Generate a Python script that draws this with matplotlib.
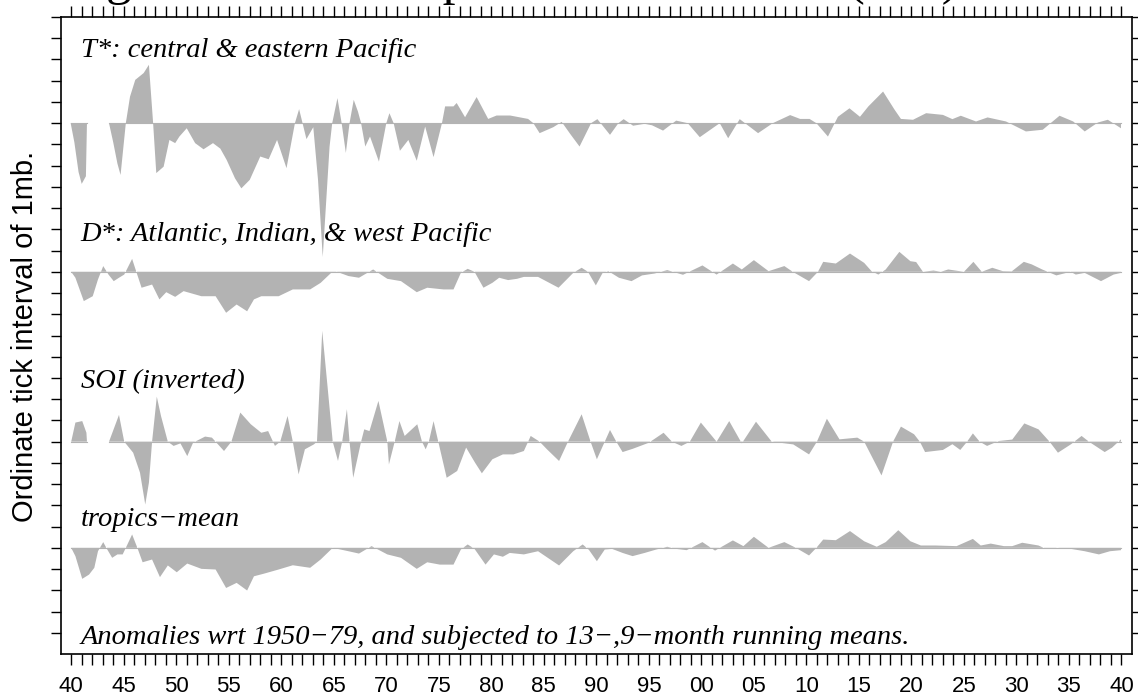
import numpy as np
import matplotlib
matplotlib.use("Agg")
import matplotlib.pyplot as plt

# ---------------- data (mb anomalies) ----------------
nan = float("nan")

tstar_years = [1939.95, 1940.3, 1940.7, 1941.0, 1941.4, 1941.5, 1942.5,
               1943.6, 1944.0, 1944.4, 1944.7, 1945.2, 1945.6, 1946.1, 1946.9, 1947.4, 1947.8,
               1948.1, 1948.8, 1949.35, 1949.9, 1950.3, 1951.0, 1951.8, 1952.6, 1953.5, 1954.2,
               1954.8, 1955.6, 1956.2, 1957.0, 1958.0, 1958.8, 1959.6, 1960.5, 1961.3, 1961.7,
               1962.4, 1963.05, 1963.5, 1963.95, 1964.3, 1964.6, 1964.85, 1965.35, 1965.75,
               1966.15, 1966.5, 1966.9, 1967.3, 1967.6, 1968.0, 1968.45, 1969.3, 1970.0, 1970.3,
               1970.7, 1971.3, 1972.1, 1972.9, 1973.7, 1974.5, 1975.3, 1975.6, 1976.4, 1976.7,
               1977.5, 1978.6, 1979.7, 1980.5, 1981.8, 1983.5, 1984.0, 1984.6, 1985.9, 1986.7,
               1987.5, 1988.4, 1989.5, 1990.1, 1991.3, 1992.1, 1992.6, 1993.5, 1994.6, 1995.3,
               1996.35, 1997.6, 1998.7, 1999.85, 2001.75, 2002.55, 2003.65, 2005.4, 2006.8,
               2008.45, 2009.4, 2010.3, 2010.95, 2012.05, 2013.0, 2014.1, 2015.1, 2015.9, 2017.3,
               2018.4, 2019.0, 2020.15, 2021.4, 2023.0, 2023.9, 2024.7, 2026.15, 2027.25, 2029.0,
               2029.65, 2030.9, 2032.5, 2034.1, 2035.4, 2036.5, 2037.75, 2038.7, 2039.95]
tstar_vals = [0.0, -0.9, -2.3, -2.86, -2.5, 0.0, nan,
              0.0, -0.9, -1.9, -2.44, 0.0, 1.25, 2.04, 2.36, 2.75, 0.0,
              -2.35, -2.05, -0.79, -0.94, -0.63, -0.24, -0.94, -1.23, -0.94, -1.2,
              -1.73, -2.6, -3.07, -2.67, -1.57, -1.7, -0.79, -2.12, 0.0, 0.66,
              -0.75, -0.19, -2.67, -6.3, -3.5, -1.1, 0.0, 1.18, 0.0,
              -1.4, 0.0, 1.1, 0.55, 0.0, -1.1, -0.63, -1.81, 0.0, 0.47,
              0.0, -1.3, -0.79, -1.77, -0.16, -1.6, 0.0, 0.79, 0.79, 0.95,
              0.28, 1.23, 0.2, 0.36, 0.36, 0.2, 0.0, -0.47, -0.19, 0.06,
              -0.5, -1.1, 0.0, 0.19, -0.55, 0.0, 0.19, -0.12, -0.03, -0.1,
              -0.35, 0.12, 0.0, -0.66, 0.0, -0.71, 0.19, -0.47, 0.0,
              0.38, 0.2, 0.2, 0.0, -0.63, 0.3, 0.7, 0.3, 0.79, 1.49,
              0.63, 0.2, 0.16, 0.47, 0.39, 0.19, 0.35, 0.08, 0.27, 0.08,
              -0.08, -0.39, -0.31, 0.35, 0.08, -0.39, 0.03, 0.16, -0.24]

dstar_years = [1940.0, 1940.4, 1941.2, 1942.05, 1942.55, 1943.05, 1943.55, 1944.05, 1944.55,
               1945.05, 1945.8, 1946.2, 1946.7, 1947.7, 1948.4, 1949.05, 1949.9, 1950.7, 1952.4,
               1953.75, 1954.75, 1955.75, 1956.75, 1957.4, 1958.1, 1959.75, 1961.1, 1962.75,
               1963.75, 1964.75, 1965.3, 1966.4, 1967.4, 1968.75, 1970.1, 1971.4, 1972.9, 1973.9,
               1975.45, 1976.4, 1977.1, 1977.75, 1978.4, 1979.25, 1980.1, 1980.75, 1981.6,
               1982.45, 1983.1, 1984.45, 1986.4, 1987.8, 1988.6, 1989.2, 1989.95, 1990.6,
               1991.15, 1992.15, 1993.35, 1994.35, 1995.55, 1996.75, 1998.25, 2000.1, 2001.45,
               2003.0, 2003.85, 2005.0, 2006.4, 2007.9, 2008.7, 2010.25, 2011.1, 2011.6, 2012.8,
               2014.15, 2015.5, 2016.2, 2016.85, 2017.55, 2018.85, 2019.9, 2020.45, 2021.1,
               2022.1, 2022.8, 2023.5, 2025.0, 2025.9, 2026.7, 2027.7, 2028.7, 2029.55, 2030.7,
               2031.45, 2032.45, 2033.8, 2035.15, 2035.65, 2036.5, 2038.05, 2039.25, 2039.95]
dstar_vals = [0.0, -0.28, -1.38, -1.15, -0.36, 0.27, -0.13, -0.44, -0.28,
              -0.13, 0.61, 0.0, -0.75, -0.6, -1.3, -0.96, -1.18, -0.91, -1.15,
              -1.15, -1.93, -1.54, -1.86, -1.3, -1.15, -1.15, -0.83, -0.83,
              -0.52, -0.05, 0.0, -0.2, -0.28, 0.11, -0.33, -0.44, -0.96, -0.75,
              -0.83, -0.83, -0.05, 0.14, 0.0, -0.75, -0.52, -0.28, -0.39,
              -0.33, -0.24, -0.24, -0.75, -0.05, 0.19, 0.0, -0.64, -0.05,
              0.03, -0.28, -0.44, -0.17, -0.08, 0.08, -0.14, 0.3, -0.13,
              0.39, 0.11, 0.55, 0.03, 0.27, 0.0, -0.44, 0.0, 0.47, 0.39,
              0.86, 0.42, 0.03, -0.13, 0.11, 0.94, 0.5, 0.46, 0.0,
              0.06, 0.0, 0.11, 0.0, 0.47, 0.0, 0.19, 0.03, 0.02, 0.47,
              0.35, 0.11, -0.17, 0.0, -0.13, -0.05, -0.44, -0.13, -0.05]

soi_years = [1940.0, 1940.4, 1941.05, 1941.45, 1941.5, 1942.5,
             1943.6, 1944.55, 1945.05, 1945.9, 1946.55, 1947.05, 1947.4, 1947.7, 1948.15,
             1948.55, 1949.2, 1949.75, 1950.4, 1951.05, 1951.6, 1952.75, 1953.4, 1954.55,
             1955.25, 1956.1, 1957.1, 1958.1, 1958.75, 1959.4, 1959.9, 1960.6, 1961.1, 1961.65,
             1962.25, 1963.1, 1963.4, 1963.9, 1964.4, 1964.9, 1965.4, 1965.8, 1966.25, 1966.5,
             1966.85, 1967.6, 1967.9, 1968.4, 1969.25, 1970.1, 1970.25, 1970.8, 1971.25,
             1971.75, 1972.95, 1973.4, 1973.75, 1974.05, 1974.5, 1974.95, 1975.75, 1976.75,
             1977.6, 1978.45, 1979.1, 1980.1, 1981.1, 1982.1, 1983.1, 1983.75, 1984.6, 1985.3,
             1986.45, 1987.3, 1988.6, 1989.45, 1990.05, 1990.8, 1991.3, 1991.9, 1992.5, 1993.5,
             1995.0, 1996.4, 1997.2, 1998.1, 1998.9, 1999.95, 2001.45, 2002.65, 2003.85,
             2005.2, 2006.7, 2008.75, 2010.25, 2011.0, 2011.95, 2013.15, 2014.85, 2015.5,
             2017.15, 2018.25, 2019.0, 2020.25, 2020.8, 2021.3, 2023.0, 2023.9, 2024.65,
             2025.3, 2025.85, 2026.5, 2027.2, 2028.3, 2029.6, 2030.75, 2032.1, 2033.15,
             2033.95, 2035.2, 2036.2, 2036.9, 2038.4, 2039.1, 2039.95]
soi_vals = [0.0, 0.9, 0.97, 0.42, 0.0, nan,
            0.0, 1.26, 0.0, -0.52, -1.46, -2.96, -1.93, 0.0, 2.12,
            1.21, 0.0, -0.2, -0.08, -0.68, -0.05, 0.24, 0.19, -0.44,
            0.0, 1.37, 0.82, 0.42, 0.5, -0.2, 0.0, 1.21, 0.0, -1.54,
            -0.36, -0.13, 0.0, 5.22, 2.63, 0.0, -0.91, 0.0, 1.53, 0.0,
            -1.7, 0.0, 0.58, 0.5, 1.92, 0.0, -1.07, 0.0, 0.97,
            0.27, 0.82, 0.0, -0.36, 0.0, 0.97, 0.0, -1.7, -1.38,
            -0.28, -0.99, -1.49, -0.83, -0.6, -0.6, -0.44, 0.27, 0.0, -0.36,
            -0.91, 0.0, 1.29, 0.0, -0.83, 0.0, 0.55, 0.0, -0.49, -0.33,
            -0.05, 0.42, 0.0, -0.2, 0.0, 0.9, 0.0, 0.97, -0.08,
            0.94, 0.0, -0.13, -0.6, 0.0, 1.08, 0.11, 0.19, 0.0,
            -1.59, 0.0, 0.71, 0.35, 0.0, -0.49, -0.39, -0.12, -0.39,
            0.0, 0.39, 0.0, -0.2, 0.03, 0.1, 0.86, 0.58, 0.0,
            -0.52, -0.12, 0.27, 0.0, -0.49, -0.28, 0.11]

trop_years = [1940.0, 1940.4, 1941.05, 1941.7, 1942.2, 1942.55, 1943.05, 1943.4, 1943.9,
              1944.4, 1944.9, 1945.2, 1945.8, 1946.3, 1946.8, 1947.7, 1948.45, 1949.2, 1950.05,
              1951.05, 1952.4, 1953.75, 1954.75, 1955.75, 1956.75, 1957.4, 1958.4, 1959.75,
              1961.1, 1962.75, 1963.75, 1964.9, 1966.4, 1967.4, 1968.6, 1970.1, 1971.4, 1972.9,
              1973.9, 1975.1, 1976.4, 1977.1, 1977.75, 1978.4, 1979.45, 1980.25, 1981.1, 1981.75,
              1983.1, 1984.45, 1986.45, 1987.8, 1988.7, 1989.3, 1990.05, 1990.8, 1991.5, 1992.5,
              1993.45, 1994.6, 1995.7, 1996.75, 1997.6, 1998.6, 2000.1, 2001.3, 2003.0, 2004.0,
              2005.0, 2006.4, 2007.9, 2009.0, 2010.25, 2010.95, 2011.6, 2012.8, 2014.15, 2015.5,
              2016.7, 2017.55, 2018.75, 2019.9, 2020.9, 2022.3, 2024.3, 2025.85, 2026.6,
              2027.55, 2028.8, 2029.6, 2030.55, 2032.1, 2032.8, 2033.9, 2035.2, 2036.5, 2037.85,
              2038.9, 2039.95]
trop_vals = [0.0, -0.39, -1.46, -1.26, -0.94, -0.16, 0.27, -0.05, -0.47,
             -0.31, -0.31, 0.0, 0.63, 0.0, -0.68, -0.55, -1.38, -0.83, -1.15,
             -0.74, -0.99, -1.02, -1.89, -1.65, -2.01, -1.34, -1.21, -1.02,
             -0.82, -0.94, -0.55, 0.0, -0.16, -0.27, 0.08, -0.31, -0.47, -0.99,
             -0.68, -0.79, -0.79, -0.08, 0.16, -0.05, -0.79, -0.31, -0.42, -0.24,
             -0.31, -0.16, -0.83, -0.16, 0.16, -0.1, -0.63, -0.08, -0.05, -0.24,
             -0.39, -0.24, -0.08, 0.05, -0.05, -0.11, 0.27, -0.13, 0.35, 0.08,
             0.52, 0.0, 0.27, 0.0, -0.36, 0.0, 0.39, 0.36, 0.79, 0.31,
             0.05, 0.27, 0.83, 0.31, 0.11, 0.11, 0.08, 0.42, 0.11,
             0.2, 0.08, 0.08, 0.24, 0.11, -0.05, 0.0, -0.05, -0.16, -0.31,
             -0.16, -0.11]

series_labels = ["T*: central & eastern Pacific",
                 "D*: Atlantic, Indian, & west Pacific",
                 "SOI (inverted)",
                 "tropics\u2212mean"]
footnote = "Anomalies wrt 1950\u221279, and subjected to 13\u2212,9\u2212month running means."
ylabel_text = "Ordinate tick interval of 1mb."
title_text = "Regional sea-level pressure anomalies (hPa)"
tick_years = list(range(1940, 2041))

# ---------------- layout / style ----------------
baselines = [-5.0, -12.0, -20.0, -25.0]
label_y = [-1.87, -10.55, -17.5, -23.96]
fill_col = "#b3b3b3"
serif = ["Liberation Serif", "DejaVu Serif"]
sans = ["Liberation Sans", "DejaVu Sans"]

W, H = 1138, 698
fig = plt.figure(figsize=(W / 100, H / 100), dpi=100)
L, R, T, B = 60.7, 1132.0, 17.0, 654.0
ax = fig.add_axes([L / W, 1 - B / H, (R - L) / W, (B - T) / H])

series = [(tstar_years, tstar_vals), (dstar_years, dstar_vals),
          (soi_years, soi_vals), (trop_years, trop_vals)]
for (yrs, vals), base in zip(series, baselines):
    x = np.array(yrs, dtype=float)
    raw = np.array(vals, dtype=float)
    v = raw + base
    ax.fill_between(x, base, v, facecolor=fill_col, edgecolor="none", lw=0)
    ax.plot(x, np.where(np.isnan(raw), np.nan, base), color=fill_col, lw=0.8)

for lab, ly in zip(series_labels, label_y):
    ax.text(1940.9, ly, lab, family=serif, style="italic", fontsize=20.5,
            ha="left", va="baseline", color="black")
ax.text(1940.9, -29.55, footnote, family=serif, style="italic", fontsize=20.5,
        ha="left", va="baseline", color="black")

ax.set_xlim(1939.0, 2041.0)
ax.set_ylim(-30, 0)
ax.set_xticks(tick_years)
ax.set_xticklabels([f"{y % 100:02d}" if y % 5 == 0 else "" for y in tick_years],
                   family=sans, fontsize=16)
ax.set_yticks(list(range(-29, 1)))
ax.set_yticklabels([])
ax.tick_params(axis="x", which="both", direction="out", length=8, width=1.0,
               top=True, bottom=True, labeltop=False, pad=7.5)
ax.tick_params(axis="y", which="both", direction="out", length=7.2, width=1.0,
               left=True, right=True, labelleft=False)
for s in ax.spines.values():
    s.set_linewidth(1.2)

fig.text(25 / W, 1 - 336 / H, ylabel_text, family=sans, fontsize=21,
         rotation=90, ha="center", va="center")

# title sits above the canvas; only its descenders show, as in the reference
fig.text(49 / W, 1.0086, title_text, family=serif,
         fontsize=37, ha="left", va="baseline")

fig.savefig("out.png", dpi=100)
